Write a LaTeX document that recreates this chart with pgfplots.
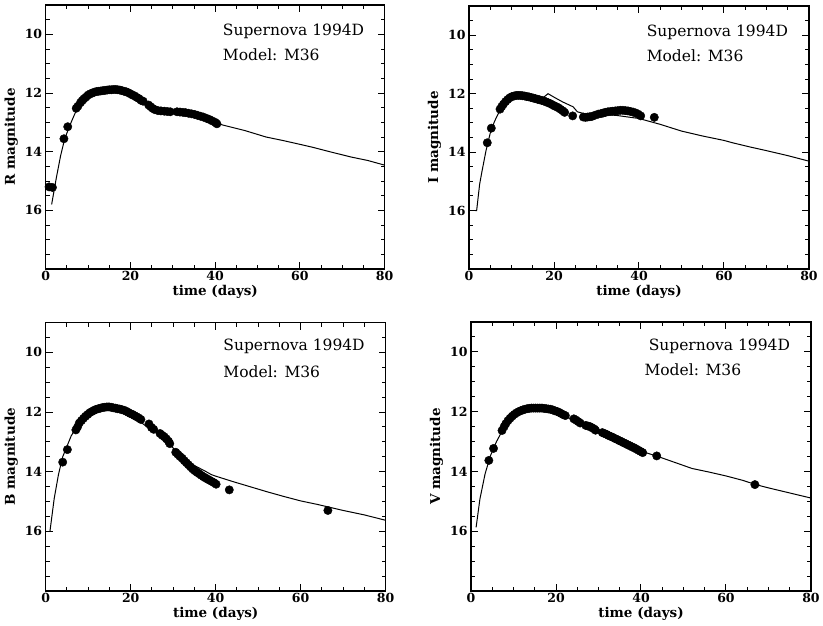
\documentclass[border=0pt]{standalone}
\usepackage{fontspec}
\setmainfont{DejaVu Serif}
\usepackage{pgfplots}
\pgfplotsset{compat=1.18}

\pgfplotsset{sn/.style={
  scale only axis,
  xmin=0, xmax=80, ymin=9, ymax=18, y dir=reverse,
  xtick={0,20,40,60,80}, minor xtick={0,5,...,80},
  ytick={10,12,14,16}, minor ytick={9,9.5,...,18},
  tick align=inside, xtick pos=both, ytick pos=both,
  major tick length=7pt, minor tick length=4pt,
  every tick/.append style={line width=1pt, black},
  axis line style={line width=1.6pt},
  /pgf/number format/assume math mode=true,
  tick label style={font=\fontsize{12.5}{13}\selectfont\bfseries},
  xticklabel style={yshift=1pt},
  label style={font=\fontsize{13.5}{14}\selectfont\bfseries},
  xlabel={time (days)},
  xlabel style={yshift=3pt},
  ylabel style={yshift=0pt},
  clip=false,
},
dots/.style={only marks, mark=*, mark size=4.2pt, black, mark options={fill=black, draw=black}},
model/.style={no marks, black, line width=1pt},
}
\tikzset{ann/.style={anchor=base west, font=\fontsize{15.5}{16}\selectfont}}

\begin{document}
\begin{tikzpicture}
\useasboundingbox (0,0) rectangle (823pt,625pt);

% ---------------- R ----------------
\begin{axis}[sn, at={(45.7pt,356pt)}, anchor=south west, width=339pt, height=264pt,
  ylabel={R magnitude}]
\addplot[model] coordinates {
(1.4,15.8) (2.5,14.9) (3.5,14.15) (4.5,13.55) (6,13.0) (7.5,12.5) (9,12.2) (11,12.0) (14,11.9) (17,11.88) (19,11.95) (21,12.1) (23,12.3) (25,12.5) (27,12.6) (30,12.65) (33,12.7) (36,12.8) (39,12.97) (42,13.1) (47,13.28) (52,13.5) (56,13.62) (60,13.75) (63,13.85) (67,14.0) (72,14.18) (76,14.3) (80,14.46)};
\addplot[dots] coordinates {
(0.8,15.2) (1.6,15.22) (4.3,13.56) (5.2,13.15) (7.2,12.52) (7.6,12.45) (8.2,12.33) (8.6,12.26) (9.0,12.2) (9.5,12.14) (10.0,12.07) (10.5,12.03) (11.0,12.0) (11.5,11.97) (12.0,11.95) (12.5,11.94) (13.0,11.93) (13.5,11.92) (14.0,11.91) (14.5,11.9) (15.0,11.89) (15.5,11.89) (16.0,11.88) (16.5,11.88) (17.0,11.89) (17.5,11.9) (18.0,11.92) (18.5,11.94) (19.0,11.96) (19.5,11.99) (20.0,12.03) (20.5,12.07) (21.0,12.1) (21.5,12.15) (22.0,12.19) (22.5,12.25) (23.0,12.28) (24.3,12.41) (24.8,12.47) (25.3,12.53) (25.8,12.57) (26.5,12.6) (27.2,12.61) (28.0,12.62) (28.7,12.63) (29.4,12.64) (31.0,12.64) (31.7,12.65) (32.4,12.66) (33.0,12.67) (33.7,12.69) (34.4,12.71) (35.1,12.73) (35.8,12.76) (36.5,12.79) (37.2,12.82) (37.9,12.86) (38.6,12.9) (39.3,12.95) (40.0,13.0) (40.4,13.05)};
\node[ann] at (axis cs:41,10.05) {Supernova 1994D};
\node[ann] at (axis cs:41,10.9) {Model: M36};
\end{axis}

% ---------------- I ----------------
\begin{axis}[sn, at={(469pt,356pt)}, anchor=south west, width=340pt, height=263pt,
  ylabel={I magnitude}]
\addplot[model] coordinates {
(1.5,16.0) (1.8,16.0) (2.5,15.1) (3.0,14.7) (4.0,13.95) (5.0,13.35) (6.0,12.95) (7.5,12.5) (9,12.2) (11,12.07) (13,12.06) (15,12.12) (17.5,12.13) (18.6,12.0) (20,12.12) (22,12.28) (24.5,12.45) (25.5,12.62) (27,12.68) (30,12.68) (35,12.75) (40,12.85) (45,13.05) (50,13.28) (55,13.45) (60,13.6) (62,13.68) (66,13.82) (70,13.95) (75,14.12) (80,14.31)};
\addplot[dots] coordinates {
(4.3,13.68) (5.25,13.18) (7.3,12.53) (7.7,12.44) (8.1,12.36) (8.6,12.27) (9.1,12.2) (9.6,12.14) (10.1,12.1) (10.6,12.08) (11.1,12.06) (11.6,12.06) (12.1,12.06) (12.6,12.07) (13.1,12.08) (13.6,12.1) (14.1,12.11) (14.6,12.13) (15.1,12.15) (15.6,12.17) (16.1,12.19) (16.6,12.21) (17.1,12.23) (17.6,12.25) (18.1,12.28) (18.6,12.31) (19.1,12.34) (19.6,12.38) (20.1,12.42) (20.6,12.45) (21.1,12.49) (21.6,12.54) (22.1,12.59) (22.5,12.64) (24.4,12.76) (26.9,12.8) (27.4,12.81) (27.9,12.8) (28.4,12.79) (28.9,12.78) (29.6,12.74) (30.4,12.7) (31.1,12.68) (31.6,12.66) (32.1,12.64) (32.7,12.62) (33.3,12.61) (33.8,12.6) (34.4,12.59) (35.0,12.58) (35.6,12.57) (36.2,12.57) (36.8,12.58) (37.4,12.59) (38.0,12.61) (38.6,12.63) (39.2,12.66) (39.8,12.7) (40.4,12.76) (43.6,12.81)};
\node[ann] at (axis cs:41,10.05) {Supernova 1994D};
\node[ann] at (axis cs:41,10.9) {Model: M36};
\end{axis}

% ---------------- B ----------------
\begin{axis}[sn, at={(45.7pt,34pt)}, anchor=south west, width=340pt, height=268.5pt,
  ylabel={B magnitude}]
\addplot[model] coordinates {
(1.0,16.0) (2.0,14.9) (3.0,14.1) (4.0,13.5) (5.0,13.15) (6.0,12.8) (7.5,12.45) (9,12.2) (11,11.98) (13,11.87) (15,11.83) (17,11.9) (19,12.03) (21,12.2) (23.4,12.45) (25.7,12.64) (28.9,13.05) (31,13.35) (34,13.72) (37.5,13.98) (39,14.1) (40,14.15) (44,14.33) (48,14.5) (52,14.67) (56,14.83) (60,14.98) (64,15.1) (67,15.2) (70,15.3) (75,15.45) (80,15.63)};
\addplot[dots] coordinates {
(4.0,13.68) (5.1,13.26) (7.1,12.6) (7.5,12.5) (7.9,12.37) (8.4,12.29) (8.9,12.21) (9.4,12.14) (9.9,12.08) (10.4,12.02) (10.9,11.98) (11.4,11.94) (11.9,11.91) (12.4,11.89) (12.9,11.87) (13.4,11.85) (13.9,11.84) (14.4,11.83) (14.9,11.83) (15.4,11.84) (15.9,11.86) (16.4,11.87) (16.9,11.89) (17.4,11.9) (17.9,11.92) (18.4,11.94) (18.9,11.97) (19.4,12.01) (19.9,12.05) (20.4,12.08) (20.9,12.12) (21.4,12.16) (21.9,12.2) (22.4,12.25) (24.3,12.4) (24.9,12.52) (25.4,12.58) (26.9,12.72) (27.4,12.78) (27.9,12.83) (28.4,12.9) (28.9,12.98) (29.2,13.06) (30.6,13.35) (31.1,13.42) (31.6,13.49) (32.1,13.55) (32.6,13.63) (33.1,13.7) (33.6,13.77) (34.1,13.84) (34.6,13.91) (35.1,13.97) (35.6,14.02) (36.1,14.07) (36.6,14.12) (37.1,14.17) (37.6,14.21) (38.1,14.25) (38.6,14.29) (39.1,14.33) (39.6,14.37) (40.1,14.42) (43.2,14.61) (66.4,15.3)};
\node[ann] at (axis cs:41,9.95) {Supernova 1994D};
\node[ann] at (axis cs:41,10.83) {Model: M36};
\end{axis}

% ---------------- V ----------------
\begin{axis}[sn, at={(471pt,34pt)}, anchor=south west, width=340pt, height=269pt,
  ylabel={V magnitude}]
\addplot[model] coordinates {
(1.2,15.87) (2.1,14.92) (3.3,14.09) (4.5,13.5) (6,13.0) (7.5,12.6) (9,12.25) (11,12.02) (13,11.92) (16,11.88) (19,11.92) (21,12.05) (23,12.2) (25.5,12.42) (28,12.6) (30,12.72) (33,12.9) (36,13.08) (40,13.32) (44,13.5) (48,13.7) (52,13.9) (56,14.02) (60,14.15) (64,14.3) (67,14.44) (70,14.55) (75,14.72) (80,14.89)};
\addplot[dots] coordinates {
(4.2,13.63) (5.3,13.23) (7.3,12.63) (7.8,12.5) (8.2,12.4) (8.7,12.3) (9.2,12.22) (9.7,12.15) (10.2,12.09) (10.7,12.04) (11.2,12.0) (11.7,11.97) (12.2,11.94) (12.7,11.92) (13.2,11.9) (13.7,11.89) (14.2,11.88) (14.7,11.88) (15.2,11.88) (15.7,11.88) (16.2,11.88) (16.7,11.88) (17.2,11.89) (17.7,11.9) (18.2,11.91) (18.7,11.92) (19.2,11.94) (19.7,11.97) (20.2,11.99) (20.7,12.02) (21.2,12.06) (21.7,12.1) (22.2,12.13) (24.2,12.24) (24.7,12.28) (25.2,12.33) (25.7,12.38) (27.0,12.46) (27.5,12.48) (28.0,12.5) (28.5,12.54) (29.0,12.58) (29.3,12.62) (30.9,12.7) (31.4,12.73) (31.9,12.76) (32.4,12.8) (32.9,12.83) (33.4,12.86) (33.9,12.9) (34.4,12.93) (34.9,12.97) (35.4,13.0) (35.9,13.04) (36.4,13.07) (36.9,13.11) (37.4,13.14) (37.9,13.18) (38.4,13.21) (38.9,13.25) (39.4,13.29) (39.9,13.33) (40.4,13.37) (43.7,13.48) (66.8,14.44)};
\node[ann] at (axis cs:41,9.95) {Supernova 1994D};
\node[ann] at (axis cs:40,10.8) {Model: M36};
\end{axis}
\end{tikzpicture}
\end{document}
